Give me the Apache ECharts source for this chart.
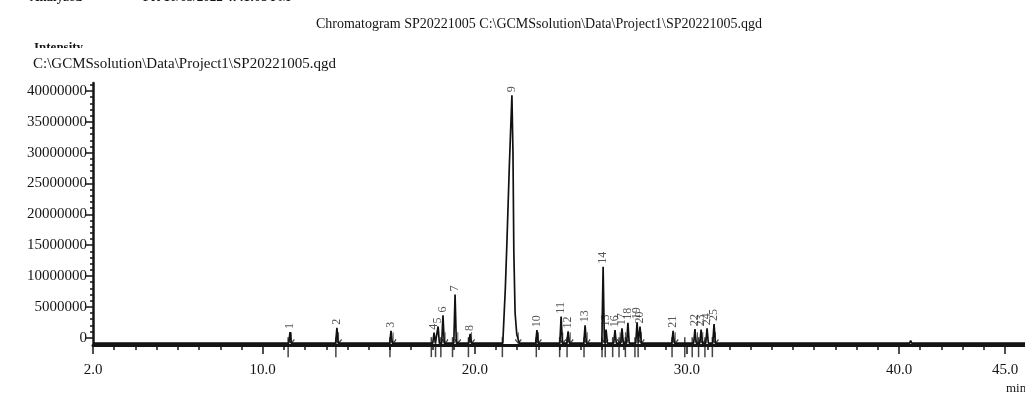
<!DOCTYPE html>
<html>
<head>
<meta charset="utf-8">
<script src="https://cdn.jsdelivr.net/npm/echarts@6/dist/echarts.min.js"></script>
<style>
  html, body { margin: 0; padding: 0; background: #fff; }
  #chart { width: 1025px; height: 394px; }
</style>
</head>
<body>
<div id="chart"></div>
<script>
// chromatogram trace (retention time in min, intensity)
const traceTime = [2.0, 11.0, 11.23, 11.29, 11.35, 13.44, 13.50, 13.56, 15.99, 16.05, 16.11,
  18.02, 18.08, 18.14, 18.21, 18.27, 18.33, 18.44, 18.50, 18.56, 19.01, 19.07, 19.13,
  19.72, 19.78, 19.84, 21.32, 21.44, 21.52, 21.63, 21.75, 21.80, 21.84, 21.90, 21.98, 22.10,
  22.87, 22.93, 22.99, 24.01, 24.07, 24.13, 24.34, 24.40, 24.46, 25.14, 25.20, 25.26,
  25.99, 26.05, 26.11, 26.19, 26.25, 26.55, 26.61, 26.67, 26.88, 26.94, 27.00,
  27.16, 27.22, 27.28, 27.59, 27.65, 27.71, 27.79, 27.85, 29.29, 29.35, 29.41,
  30.32, 30.38, 30.44, 30.61, 30.67, 30.73, 30.89, 30.95, 31.01, 31.22, 31.28, 31.34,
  40.50, 40.55, 40.60, 46.0];
const traceValue = [-900000, -900000, -900000, 900000, -900000, -900000, 1600000, -900000, -900000, 1100000, -900000,
  -900000, 800000, -900000, -900000, 1800000, -900000, -900000, 3600000, -900000, -900000, 7000000, -900000,
  -900000, 600000, -900000, -900000, 8000000, 16000000, 28000000, 39300000, 30000000, 14000000, 4000000, 500000, -900000,
  -900000, 1200000, -900000, -900000, 3400000, -900000, -900000, 1000000, -900000, -900000, 2000000, -900000,
  -900000, 11500000, -900000, 1300000, -900000, -900000, 1200000, -900000, -900000, 1500000, -900000,
  -900000, 2400000, -900000, -900000, 2500000, -900000, 1800000, -900000, -900000, 1100000, -900000,
  -900000, 1400000, -900000, -900000, 1300000, -900000, -900000, 1500000, -900000, -900000, 2200000, -900000,
  -900000, -500000, -900000, -900000];

// peak numbers with apex positions
const peakIds = ['1', '2', '3', '4', '5', '6', '7', '8', '9', '10', '11', '12', '13', '14', '15',
  '16', '17', '18', '19', '20', '21', '22', '23', '24', '25'];
const peakTimes = [11.29, 13.50, 16.05, 18.08, 18.27, 18.50, 19.07, 19.78, 21.75, 22.93, 24.07, 24.40, 25.20,
  26.05, 26.19, 26.61, 26.94, 27.22, 27.65, 27.79, 29.35, 30.38, 30.67, 30.95, 31.28];
const peakHeights = [900000, 1600000, 1100000, 800000, 1800000, 3600000, 7000000, 600000, 39300000, 1200000,
  3400000, 1000000, 2000000, 11500000, 1300000, 1200000, 1500000, 2400000, 2500000, 1800000,
  1100000, 1400000, 1300000, 1500000, 2200000];

// integration arrows and start/end marks
const arrowTimes = [11.35, 13.58, 16.15, 18.6, 19.2, 19.85, 22.05, 23.0, 24.15, 24.5, 25.3, 26.15,
  26.85, 27.1, 27.85, 29.45, 30.5, 30.75, 31.35];
const markTimes = [11.2, 13.45, 16.0, 17.95, 18.15, 18.4, 18.95, 19.7, 21.3, 22.9, 24.0, 24.35, 25.15,
  26.0, 26.15, 26.5, 26.8, 27.1, 27.55, 27.7, 29.3, 29.9, 30.25, 30.55, 30.85, 31.2];
const baseLevel = -900000;

// axis ticks
const xLabelTicks = [2, 10, 20, 30, 40, 45];
const xMinorTicks = [2, 3, 4, 5, 6, 7, 8, 9, 10, 11, 12, 13, 14, 15, 16, 17, 18, 19, 20, 21, 22, 23, 24, 25,
  26, 27, 28, 29, 30, 31, 32, 33, 34, 35, 36, 37, 38, 39, 40, 41, 42, 43, 44, 45];
const yLabelTicks = [0, 5000000, 10000000, 15000000, 20000000, 25000000, 30000000, 35000000, 40000000];
const yMinorTicks = [];
for (let v = 0; v <= 41000000; v += 1000000) yMinorTicks.push(v);

const serif = "'Liberation Serif', 'DejaVu Serif', serif";
const ink = '#151515';

const chart = echarts.init(document.getElementById('chart'));

const xBase = {
  type: 'value', min: 2, max: 45.94, position: 'bottom',
  splitLine: { show: false },
  axisLine: { onZero: false, lineStyle: { color: ink, width: 3 } }
};
const yBase = {
  type: 'value', min: -1200000, max: 41300000, position: 'left',
  splitLine: { show: false },
  axisLine: { onZero: false, lineStyle: { color: ink, width: 2.5 } }
};

chart.setOption({
  animation: false,
  backgroundColor: '#fff',
  grid: { left: 93, right: 0, top: 83, bottom: 49 },
  title: {
    text: 'Chromatogram SP20221005 C:\\GCMSsolution\\Data\\Project1\\SP20221005.qgd',
    left: 534, top: 12, textAlign: 'center',
    textStyle: { fontFamily: serif, fontSize: 14, fontWeight: 'normal', color: ink }
  },
  graphic: [
    { type: 'text', left: 30, top: -9, z: 10, style: { text: 'Analyzed', font: 'bold 13px ' + serif, fill: ink } },
    { type: 'text', left: 143, top: -9, z: 10, style: { text: 'Fri 10/05/2022 4:41:08 PM', font: 'bold 13px ' + serif, fill: ink } },
    { type: 'text', left: 34, top: 41, z: 10, style: { text: 'Intensity', font: 'bold 13px ' + serif, fill: ink } },
    { type: 'rect', left: 28, top: 48, z: 11, shape: { width: 90, height: 10 }, style: { fill: '#fff' } },
    { type: 'text', left: 33, top: 57, z: 12, style: { text: 'C:\\GCMSsolution\\Data\\Project1\\SP20221005.qgd', font: '15px ' + serif, fill: ink } },
    { type: 'text', left: 1006, top: 382, z: 10, style: { text: 'min', font: '13px ' + serif, fill: ink } }
  ],
  xAxis: [
    Object.assign({}, xBase, {
      axisTick: { show: true, customValues: xMinorTicks, length: 5, lineStyle: { color: ink, width: 1.5 } },
      axisLabel: { show: false }
    }),
    Object.assign({}, xBase, {
      axisLine: { show: false, onZero: false },
      axisTick: { show: true, customValues: xLabelTicks, length: 9, lineStyle: { color: ink, width: 1.5 } },
      axisLabel: {
        customValues: xLabelTicks, margin: 18, color: ink,
        fontFamily: serif, fontSize: 15,
        formatter: v => v.toFixed(1)
      }
    })
  ],
  yAxis: [
    Object.assign({}, yBase, {
      axisTick: { show: true, customValues: yMinorTicks, length: 3, lineStyle: { color: ink, width: 1.5 } },
      axisLabel: { show: false }
    }),
    Object.assign({}, yBase, {
      axisLine: { show: false, onZero: false },
      axisTick: { show: true, customValues: yLabelTicks, length: 7, lineStyle: { color: ink, width: 1.5 } },
      axisLabel: {
        customValues: yLabelTicks, margin: 6, color: ink,
        fontFamily: serif, fontSize: 15,
        formatter: v => String(v)
      }
    })
  ],
  series: [
    {
      name: 'TIC', type: 'line', xAxisIndex: 0, yAxisIndex: 0,
      showSymbol: false, symbol: 'none',
      lineStyle: { color: '#111', width: 1.7 },
      data: traceTime.map((t, i) => [t, traceValue[i]]),
      z: 3
    },
    {
      name: 'marks', type: 'scatter', xAxisIndex: 0, yAxisIndex: 0, clip: false,
      symbol: 'rect', symbolSize: [1.5, 20], symbolOffset: [0, 4],
      itemStyle: { color: ink },
      data: markTimes.map(t => [t, baseLevel]),
      z: 4
    },
    {
      name: 'arrows', type: 'scatter', xAxisIndex: 0, yAxisIndex: 0, clip: false,
      symbol: 'path://M4,0 L4,12 M0,8 L4,12 L8,8', symbolSize: [6, 11], symbolOffset: [0, '-50%'],
      itemStyle: { color: 'transparent', borderColor: ink, borderWidth: 1.2 },
      data: arrowTimes.map(t => [t, baseLevel]),
      z: 4
    },
    {
      name: 'peaks', type: 'scatter', xAxisIndex: 0, yAxisIndex: 0,
      symbolSize: 0,
      data: peakTimes.map((t, i) => [t, peakHeights[i], peakIds[i]]),
      label: {
        show: true, position: 'top', distance: 3, rotate: 90,
        align: 'left', verticalAlign: 'middle',
        fontFamily: serif, fontSize: 12, color: '#2a2a2a',
        formatter: p => p.data[2]
      },
      z: 5
    }
  ]
});
</script>
</body>
</html>
